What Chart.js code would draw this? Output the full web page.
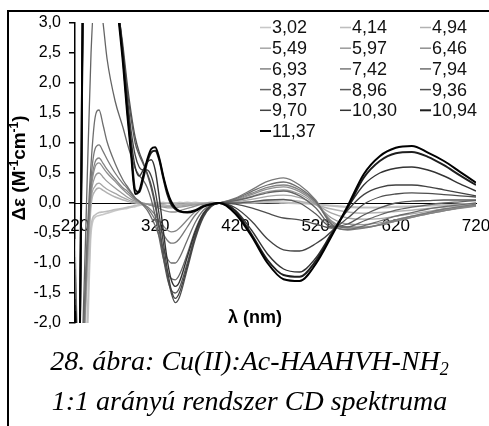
<!DOCTYPE html>
<html lang="hu">
<head>
<meta charset="UTF-8">
<title>CD spektrum</title>
<script src="https://cdn.jsdelivr.net/npm/chart.js"></script>
<style>
  body { margin: 0; background: #fff; overflow: hidden; }
  #wrap { position: relative; width: 489px; height: 426px; }
  #frame {
    position: absolute; left: 7px; top: 10px; width: 482px; height: 416px;
    border-left: 2px solid #000; border-top: 2px solid #000;
  }
  #cd { position: absolute; left: 0; top: 0; }
  .cap {
    position: absolute; left: 5px; width: 489px;
    text-align: center; color: #000; white-space: nowrap;
    font-family: "Liberation Serif", "Times New Roman", serif;
    font-style: italic; font-size: 28px; line-height: 28px;
  }
  .cap sub { font-size: 18px; line-height: 0; vertical-align: -5px; }
</style>
</head>
<body>
<div id="wrap">
  <div id="frame"></div>
  <canvas id="cd" width="489" height="426"></canvas>
  <div class="cap" style="top:347px">28. ábra: Cu(II):Ac-HAAHVH-NH<sub>2</sub></div>
  <div class="cap" style="top:387px">1:1 arányú rendszer CD spektruma</div>
</div>
<script>
// hullámhossz (nm)
const wavelengths = [220, 225, 230, 235, 240, 245, 250, 255, 260,
  270, 280, 285, 290, 295, 300, 305, 310, 315, 320, 325, 330, 335, 340, 345, 350,
  360, 370, 380, 390, 400,
  420, 440, 460, 480, 500, 520, 540, 560, 580, 600, 620, 640, 660, 680, 700, 720];

// pH értékek
const phLabels = ['3,02', '4,14', '4,94', '5,49', '5,97', '6,46', '6,93', '7,42',
  '7,94', '8,37', '8,96', '9,36', '9,70', '10,30', '10,94', '11,37'];

// Δε (M-1cm-1) minden pH-n
const ph302 = [-0.6, -3.2, -3.0, -2.4, -0.5, -0.24, -0.21, -0.19, -0.17,
  -0.13, -0.1, -0.09, -0.07, -0.06, -0.04, -0.03, -0.02, -0.02, -0.01, 0.0, 0.01, 0.0, 0.01, 0.0, 0.01,
  0.0, 0.01, 0.0, 0.01, 0.0,
  0.01, 0.0, 0.01, 0.0, -0.01, -0.02, -0.04, -0.06, -0.07, -0.07, -0.06, -0.05, -0.04, -0.03, -0.02, -0.01];
const ph414 = [-0.8, -3.1, -2.8, -2.0, -0.38, -0.2, -0.16, -0.15, -0.14,
  -0.11, -0.09, -0.07, -0.06, -0.04, -0.03, -0.02, -0.02, -0.01, 0.0, 0.01, 0.0, 0.0, 0.01, 0.0, 0.0,
  0.01, 0.0, 0.0, 0.01, 0.0,
  0.0, 0.01, 0.02, 0.01, 0.0, -0.02, -0.05, -0.07, -0.08, -0.08, -0.07, -0.06, -0.05, -0.04, -0.02, -0.01];
const ph494 = [-0.9, -3.0, -2.7, -1.3, -0.05, 0.2, 0.25, 0.21, 0.17,
  0.1, 0.05, 0.03, 0.01, 0.0, -0.01, -0.01, -0.02, -0.02, -0.03, -0.03, -0.03, -0.04, -0.04, -0.03, -0.03,
  -0.02, -0.01, 0.0, 0.0, 0.0,
  0.01, 0.02, 0.04, 0.05, 0.03, -0.03, -0.1, -0.15, -0.17, -0.16, -0.14, -0.12, -0.09, -0.07, -0.05, -0.03];
const ph549 = [-0.9, -3.1, -2.6, -1.1, 0.05, 0.28, 0.33, 0.28, 0.23,
  0.16, 0.09, 0.06, 0.03, 0.01, 0.0, -0.01, -0.02, -0.03, -0.04, -0.05, -0.05, -0.06, -0.06, -0.05, -0.05,
  -0.03, -0.02, -0.01, 0.0, 0.0,
  0.02, 0.06, 0.11, 0.13, 0.09, -0.02, -0.17, -0.25, -0.27, -0.26, -0.22, -0.18, -0.14, -0.1, -0.07, -0.04];
const ph597 = [-1.0, -3.2, -2.6, -1.0, 0.12, 0.44, 0.5, 0.43, 0.36,
  0.25, 0.15, 0.1, 0.06, 0.03, 0.01, -0.01, -0.02, -0.04, -0.05, -0.06, -0.07, -0.08, -0.08, -0.08, -0.07,
  -0.05, -0.03, -0.01, 0.0, 0.0,
  0.04, 0.11, 0.19, 0.22, 0.15, -0.02, -0.25, -0.35, -0.36, -0.33, -0.28, -0.22, -0.17, -0.12, -0.08, -0.05];
const ph646 = [-1.0, -3.2, -2.5, -0.9, 0.2, 0.6, 0.67, 0.59, 0.5,
  0.36, 0.22, 0.16, 0.1, 0.05, 0.02, 0.0, -0.02, -0.04, -0.06, -0.09, -0.12, -0.14, -0.15, -0.15, -0.13,
  -0.09, -0.05, -0.02, 0.0, 0.0,
  0.05, 0.14, 0.23, 0.27, 0.19, 0.0, -0.3, -0.4, -0.4, -0.36, -0.3, -0.24, -0.18, -0.13, -0.09, -0.05];
const ph693 = [-1.0, -3.2, -2.5, -0.9, 0.28, 0.68, 0.75, 0.66, 0.56,
  0.4, 0.25, 0.2, 0.13, 0.07, 0.03, -0.02, -0.06, -0.12, -0.2, -0.3, -0.38, -0.45, -0.48, -0.47, -0.42,
  -0.28, -0.14, -0.05, -0.01, 0.0,
  0.06, 0.16, 0.26, 0.3, 0.22, 0.02, -0.32, -0.42, -0.41, -0.37, -0.3, -0.24, -0.18, -0.13, -0.08, -0.04];
const ph742 = [-1.1, -3.2, -2.4, -0.8, 0.4, 0.9, 0.97, 0.86, 0.73,
  0.5, 0.32, 0.25, 0.16, 0.08, 0.03, -0.02, -0.08, -0.17, -0.28, -0.4, -0.52, -0.62, -0.67, -0.66, -0.6,
  -0.4, -0.2, -0.07, -0.02, 0.0,
  0.08, 0.22, 0.36, 0.42, 0.3, 0.05, -0.35, -0.45, -0.42, -0.36, -0.28, -0.22, -0.16, -0.1, -0.06, -0.02];
const ph794 = [-1.1, -3.3, -2.3, -0.6, 0.65, 1.42, 1.55, 1.3, 1.02,
  0.66, 0.38, 0.28, 0.18, 0.09, 0.03, -0.04, -0.12, -0.24, -0.38, -0.56, -0.76, -0.92, -1.0, -1.0, -0.92,
  -0.62, -0.32, -0.12, -0.03, 0.0,
  0.07, 0.19, 0.3, 0.35, 0.25, 0.03, -0.36, -0.44, -0.38, -0.3, -0.22, -0.16, -0.1, -0.06, -0.03, 0.0];
const ph837 = [-1.2, -3.3, -2.0, 0.3, 2.5, 3.5, 3.5, 3.0, 2.4,
  1.7, 1.25, 1.0, 0.78, 0.58, 0.46, 0.38, 0.26, 0.06, -0.22, -0.58, -0.92, -1.15, -1.26, -1.28, -1.2,
  -0.85, -0.45, -0.17, -0.04, 0.0,
  0.04, 0.1, 0.17, 0.2, 0.12, -0.08, -0.38, -0.4, -0.3, -0.2, -0.12, -0.07, -0.03, 0.0, 0.02, 0.04];
const ph896 = [-1.5, -3.5, 3.2, 5.0, 5.5, 5.5, 5.4, 5.2, 4.9,
  3.5, 2.5, 1.9, 1.4, 1.0, 0.8, 0.65, 0.48, 0.25, -0.05, -0.45, -0.9, -1.25, -1.45, -1.5, -1.42,
  -1.0, -0.53, -0.2, -0.05, 0.0,
  0.0, 0.02, 0.05, 0.06, 0.0, -0.18, -0.4, -0.35, -0.2, -0.08, 0.0, 0.03, 0.04, 0.05, 0.05, 0.05];
const ph936 = [-1.5, -3.5, 3.4, 5.2, 5.6, 5.6, 5.5, 5.3, 5.0,
  3.6, 2.6, 2.0, 1.5, 1.1, 0.85, 0.68, 0.5, 0.3, 0.0, -0.38, -0.8, -1.2, -1.5, -1.66, -1.58,
  -1.1, -0.6, -0.24, -0.06, 0.0,
  -0.02, -0.08, -0.17, -0.25, -0.28, -0.35, -0.42, -0.25, -0.02, 0.1, 0.15, 0.17, 0.16, 0.14, 0.12, 0.1];
const ph970 = [-1.6, -3.6, 3.6, 5.4, 5.8, 5.8, 5.7, 5.5, 5.2,
  3.7, 2.5, 1.8, 1.2, 0.8, 0.6, 0.55, 0.55, 0.45, 0.2, -0.2, -0.65, -1.1, -1.45, -1.59, -1.5,
  -1.05, -0.56, -0.22, -0.05, 0.0,
  -0.08, -0.3, -0.6, -0.78, -0.8, -0.68, -0.47, -0.12, 0.14, 0.26, 0.3, 0.3, 0.27, 0.22, 0.17, 0.12];
const ph1030 = [-1.6, -3.6, 3.8, 5.6, 6.0, 6.0, 5.9, 5.6, 5.3,
  3.7, 2.4, 1.7, 1.05, 0.6, 0.45, 0.55, 0.68, 0.72, 0.55, 0.1, -0.45, -0.95, -1.28, -1.39, -1.32,
  -0.9, -0.48, -0.18, -0.04, 0.0,
  -0.12, -0.45, -0.85, -1.1, -1.15, -0.92, -0.5, -0.08, 0.3, 0.5, 0.58, 0.6, 0.55, 0.45, 0.32, 0.2];
const ph1094 = [-1.7, -3.7, 4.0, 5.8, 6.2, 6.2, 6.0, 5.8, 5.5,
  3.8, 2.4, 1.6, 0.9, 0.22, 0.18, 0.4, 0.68, 0.84, 0.87, 0.72, 0.42, 0.15, -0.02, -0.1, -0.14,
  -0.15, -0.12, -0.05, -0.02, 0.0,
  -0.14, -0.52, -0.95, -1.2, -1.23, -0.97, -0.52, -0.08, 0.42, 0.7, 0.83, 0.85, 0.77, 0.63, 0.46, 0.3];
const ph1137 = [-1.8, -3.8, 4.2, 6.0, 6.4, 6.4, 6.2, 6.0, 5.7,
  3.7, 2.3, 1.5, 0.8, 0.15, 0.2, 0.45, 0.72, 0.9, 0.93, 0.75, 0.45, 0.2, 0.02, -0.08, -0.13,
  -0.16, -0.13, -0.06, -0.02, 0.0,
  -0.18, -0.55, -1.0, -1.27, -1.3, -1.02, -0.55, -0.05, 0.48, 0.78, 0.92, 0.95, 0.84, 0.7, 0.52, 0.34];

const spectra = [ph302, ph414, ph494, ph549, ph597, ph646, ph693, ph742,
  ph794, ph837, ph896, ph936, ph970, ph1030, ph1094, ph1137];

// szürkeárnyalat a pH növekedésével sötétedik
const lineGreys = ['#c8c8c8', '#bebebe', '#b2b2b2', '#a6a6a6', '#9a9a9a', '#8f8f8f', '#848484', '#797979',
  '#6e6e6e', '#646464', '#595959', '#4e4e4e', '#424242', '#333333', '#1e1e1e', '#000000'];
const lineWidths = [1.6, 1.6, 1.5, 1.3, 1.3, 1.3, 1.3, 1.3, 1.3, 1.3, 1.3, 1.3, 1.3, 1.4, 2, 2];

const FONT = '"Liberation Sans", Arial, sans-serif';

const datasets = spectra.map((vals, i) => ({
  label: phLabels[i],
  data: vals.map((v, j) => ({ x: wavelengths[j], y: v })),
  borderColor: lineGreys[i],
  borderWidth: lineWidths[i],
  order: spectra.length - i
}));

// jelmagyarázat három oszlopban, tengelyfeliratok
const legendCols = [260, 340, 420];
const legendTop = 27.5;
const legendRow = 20.7;

function drawYTitle(ctx) {
  const parts = [
    { t: 'Δε (M', sup: false },
    { t: '-1', sup: true },
    { t: 'cm', sup: false },
    { t: '-1', sup: true },
    { t: ')', sup: false }
  ];
  const big = 'bold 19px ' + FONT;
  const small = 'bold 12px ' + FONT;
  let total = 0;
  parts.forEach(p => { ctx.font = p.sup ? small : big; p.w = ctx.measureText(p.t).width; total += p.w; });
  ctx.save();
  ctx.translate(25, 168);
  ctx.rotate(-Math.PI / 2);
  ctx.textAlign = 'left';
  ctx.textBaseline = 'alphabetic';
  ctx.fillStyle = '#000';
  let x = -total / 2;
  parts.forEach(p => {
    ctx.font = p.sup ? small : big;
    ctx.fillText(p.t, x, p.sup ? -7 : 0);
    x += p.w;
  });
  ctx.restore();
}

const extras = {
  id: 'extras',
  afterDraw(chart) {
    const ctx = chart.ctx;
    ctx.save();
    ctx.font = '18px ' + FONT;
    ctx.textBaseline = 'middle';
    ctx.textAlign = 'left';
    chart.data.datasets.forEach((ds, i) => {
      const x = legendCols[i % 3];
      const y = legendTop + Math.floor(i / 3) * legendRow;
      ctx.strokeStyle = ds.borderColor;
      ctx.lineWidth = Math.max(ds.borderWidth, 1.5);
      ctx.beginPath();
      ctx.moveTo(x, y);
      ctx.lineTo(x + 11, y);
      ctx.stroke();
      ctx.fillStyle = '#111';
      ctx.fillText(ds.label, x + 12, y + 1);
    });
    ctx.font = 'bold 18px ' + FONT;
    ctx.textAlign = 'center';
    ctx.fillStyle = '#000';
    ctx.fillText('λ (nm)', 255, 318);
    ctx.restore();
    drawYTitle(ctx);
  }
};

new Chart(document.getElementById('cd'), {
  type: 'line',
  data: { datasets },
  plugins: [extras],
  options: {
    responsive: false,
    animation: false,
    layout: { padding: { left: 8, right: 13, top: 23, bottom: 103 } },
    plugins: { legend: { display: false }, tooltip: { enabled: false } },
    elements: {
      point: { radius: 0 },
      line: { cubicInterpolationMode: 'monotone' }
    },
    scales: {
      x: {
        type: 'linear',
        min: 220,
        max: 720,
        position: { y: 0 },
        ticks: { stepSize: 100, color: '#000', font: { size: 17, family: FONT }, padding: 13, maxRotation: 0 },
        grid: { display: false, drawTicks: false },
        border: { display: true, color: '#000', width: 1 },
        // a szélső feliratok ne szűkítsék a rajzterületet
        afterFit(scale) { scale.paddingLeft = 0; scale.paddingRight = 0; }
      },
      y: {
        min: -2,
        max: 3,
        ticks: {
          stepSize: 0.5,
          color: '#000',
          font: { size: 16, family: FONT },
          padding: 8,
          callback: v => v.toFixed(1).replace('.', ',')
        },
        grid: { drawOnChartArea: false, tickLength: 6, color: '#000', lineWidth: 1.5 },
        border: { display: true, color: '#000', width: 1.5 },
        afterFit(scale) { scale.width = 67; }
      }
    }
  }
});
</script>
</body>
</html>
